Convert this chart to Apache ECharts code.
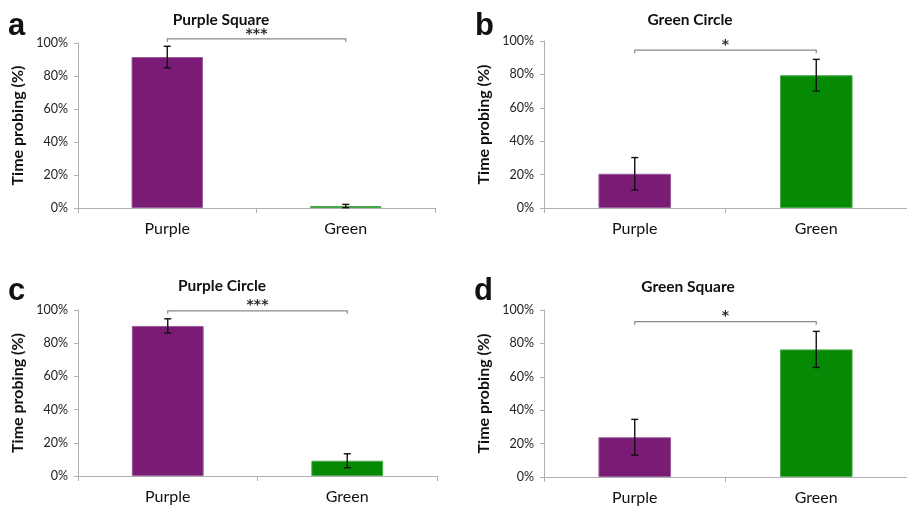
<!DOCTYPE html>
<html>
<head>
<meta charset="utf-8">
<script src="https://cdn.jsdelivr.net/npm/echarts@6/dist/echarts.min.js"></script>
<style>
  html, body { margin: 0; padding: 0; background: #fff; }
  #chart { width: 907px; height: 509px; }
</style>
</head>
<body>
<div id="chart"></div>
<script>
// data (percent of time probing)
const categories = ['Purple', 'Green'];
const panelLetters = ['a', 'b', 'c', 'd'];
const panelTitles = ['Purple Square', 'Green Circle', 'Purple Circle', 'Green Square'];
const meanA = [91.5, 1.2];
const meanB = [20.5, 79.5];
const meanC = [90.4, 9.2];
const meanD = [23.8, 76.4];
const errA = [6.5, 1.0];
const errB = [9.7, 9.5];
const errC = [4.3, 4.2];
const errD = [10.7, 10.8];
const bracketLevel = [102.5, 94.5, 99.5, 93];
const bracketStars = ['***', '*', '***', '*'];
const yTicks = [0, 20, 40, 60, 80, 100];

const means = [meanA, meanB, meanC, meanD];
const errs = [errA, errB, errC, errD];
const barColors = ['#7a1b76', '#068a06'];
const barBorders = ['#9a5a98', '#4aa84a'];

const grids = [
  { left: 78, top: 43, width: 357, height: 165 },
  { left: 544, top: 41, width: 364, height: 167 },
  { left: 78, top: 310, width: 359, height: 166 },
  { left: 544, top: 310, width: 364, height: 167 }
];
const letterPos = [[3, 6], [470, 6], [3, 271], [469, 271]];
const titleX = [216, 685, 217, 683];
const titleY = [7, 7, 273, 274];

const font = 'Lato, "Open Sans", sans-serif';
const axisGray = '#b0b0b0';

const myChart = echarts.init(document.getElementById('chart'), null, { renderer: 'canvas' });

const title = [];
const xAxis = [];
const yAxis = [];
const series = [];

grids.forEach((g, i) => {
  title.push({
    text: panelLetters[i],
    left: letterPos[i][0],
    top: letterPos[i][1],
    textStyle: { fontFamily: 'Liberation Sans, Arial, sans-serif', fontSize: 31, fontWeight: 'bold', color: '#111' }
  });
  title.push({
    text: panelTitles[i],
    left: titleX[i],
    top: titleY[i],
    textAlign: 'center',
    textStyle: { fontFamily: font, fontSize: 15.5, fontWeight: 'bold', color: '#111' }
  });
  xAxis.push({
    type: 'category',
    gridIndex: i,
    data: categories,
    axisLine: { lineStyle: { color: axisGray, width: 1 } },
    axisTick: { show: true, length: 5, lineStyle: { color: axisGray } },
    axisLabel: { color: '#111', fontFamily: font, fontSize: 16, margin: 13 }
  });
  yAxis.push({
    type: 'value',
    gridIndex: i,
    min: 0,
    max: 100,
    interval: 20,
    name: 'Time probing (%)',
    nameLocation: 'middle',
    nameGap: 52,
    nameTextStyle: { fontFamily: font, fontSize: 16, fontWeight: 'bold', color: '#111' },
    axisLine: { show: true, lineStyle: { color: axisGray, width: 1 } },
    axisTick: { show: true, length: 4, lineStyle: { color: axisGray } },
    splitLine: { show: false },
    axisLabel: {
      color: '#222', fontFamily: font, fontSize: 12.5, margin: 10,
      formatter: v => yTicks.includes(v) ? v + '%' : ''
    }
  });
  series.push({
    type: 'bar',
    xAxisIndex: i,
    yAxisIndex: i,
    barWidth: '40%',
    data: means[i].map((v, k) => ({
      value: v,
      itemStyle: { color: barColors[k], borderColor: barBorders[k], borderWidth: 1 }
    })),
    z: 2
  });
  // error bars
  series.push({
    type: 'custom',
    xAxisIndex: i,
    yAxisIndex: i,
    z: 5,
    data: means[i].map((v, k) => [k, v - errs[i][k], v + errs[i][k]]),
    renderItem: (params, api) => {
      const lo = api.coord([api.value(0), api.value(1)]);
      const hi = api.coord([api.value(0), api.value(2)]);
      const cap = 3.5;
      const st = { stroke: '#111', lineWidth: 1.4 };
      return {
        type: 'group',
        children: [
          { type: 'line', shape: { x1: hi[0], y1: hi[1], x2: lo[0], y2: lo[1] }, style: st },
          { type: 'line', shape: { x1: hi[0] - cap, y1: hi[1], x2: hi[0] + cap, y2: hi[1] }, style: st },
          { type: 'line', shape: { x1: lo[0] - cap, y1: lo[1], x2: lo[0] + cap, y2: lo[1] }, style: st }
        ]
      };
    }
  });
  // significance bracket
  series.push({
    type: 'custom',
    xAxisIndex: i,
    yAxisIndex: i,
    z: 6,
    clip: false,
    data: [[0, 1, bracketLevel[i]]],
    renderItem: (params, api) => {
      const p0 = api.coord([api.value(0), api.value(2)]);
      const p1 = api.coord([api.value(1), api.value(2)]);
      const drop = 3;
      return {
        type: 'group',
        children: [
          {
            type: 'polyline',
            shape: { points: [[p0[0], p0[1] + drop], [p0[0], p0[1]], [p1[0], p1[1]], [p1[0], p1[1] + drop]] },
            style: { stroke: '#8a8a8a', lineWidth: 1.2, fill: null }
          },
          {
            type: 'text',
            x: (p0[0] + p1[0]) / 2,
            y: p0[1] - 12,
            style: {
              text: bracketStars[i], textAlign: 'center', textVerticalAlign: 'top',
              font: 'bold 14px "DejaVu Sans", sans-serif', fill: '#2a2a2a'
            }
          }
        ]
      };
    }
  });
});

const option = {
  backgroundColor: '#fff',
  animation: false,
  title: title,
  grid: grids,
  xAxis: xAxis,
  yAxis: yAxis,
  series: series
};
option && myChart.setOption(option);
</script>
</body>
</html>
